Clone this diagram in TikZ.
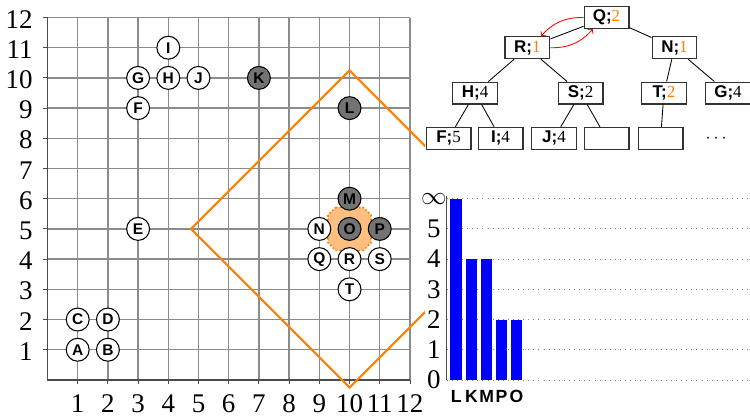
\documentclass[tikz,border=0pt]{standalone}
\usepackage{fontspec}
\setmainfont{Liberation Serif}
\setsansfont{Liberation Sans}
\usepackage{xcolor}
\usetikzlibrary{positioning}

\newcommand{\klab}[1]{\textsf{\bfseries #1;}}

\begin{document}
\begin{tikzpicture}[x=0.5cm,y=0.5cm,
  pt/.style={circle,draw,line width=0.5pt,fill=white,minimum size=10.8pt,inner sep=0pt,font=\fontsize{7.3}{8}\sffamily\bfseries},
  dark/.style={pt,fill=black!55},
  tn/.style={draw=black!80,line width=0.6pt,minimum width=0.74cm,minimum height=0.36cm,inner sep=0pt,font=\fontsize{8}{9}\selectfont},
  num/.style={font=\fontsize{12.7}{14}\selectfont,inner sep=0pt},
  bl/.style={font=\fontsize{8.3}{9}\sffamily\bfseries,inner sep=0pt}]

\useasboundingbox (-1.573,-1.192) rectangle (23.26,12.58);

% grid and axes
\draw[black!45,line width=0.6pt] (0,0) grid[step=1] (12,12);
\draw[black!70,line width=0.6pt] (0,12) -- (0,0) -- (12,0);
\foreach \i in {1,...,12} {
  \draw[black!70] (-0.15,\i) -- (0,\i);
  \draw[black!70] (\i,0) -- (\i,-0.12);
  \node[num,anchor=east] (yl\i) at (-0.48,\i-0.06) {\i};
  \node[num] (xl\i) at (\i,-0.79) {\i};
}

% region around O
\filldraw[orange,densely dotted,fill=orange!50,line width=0.8pt,shift={(10,5)}]
  (-0.46,0.71) -- (0.46,0.71) -- (0.71,0.46) -- (0.71,-0.46) -- (0.46,-0.71)
  -- (-0.46,-0.71) -- (-0.71,-0.46) -- (-0.71,0.46) -- cycle;

% diamond
\begin{scope}
\clip (-1.6,-1.2) rectangle (12.5,12.6);
\draw[orange,line width=1pt] (10,10.25) -- (15.25,5) -- (10,-0.25) -- (4.75,5) -- cycle;
\end{scope}

% points
\foreach \n/\x/\y in {A/1/1,B/2/1,C/1/2,D/2/2,E/3/5,F/3/9,G/3/10,H/4/10,I/4/11,J/5/10,N/9/5,Q/9/4,R/10/4,S/11/4,T/10/3}
  \node[pt] (p\n) at (\x,\y) {\n};
\foreach \n/\x/\y in {K/7/10,L/10/9,M/10/6,O/10/5,P/11/5}
  \node[dark] (p\n) at (\x,\y) {\n};

% tree
\node[tn] (tQ) at (18.51,12) {\klab{Q}\textcolor{orange}{2}};
\node[tn] (tR) at (15.89,11) {\klab{R}\textcolor{orange}{1}};
\node[tn] (tN) at (20.76,11) {\klab{N}\textcolor{orange}{1}};
\node[tn] (tH) at (14.16,9.5) {\klab{H}4};
\node[tn] (tS) at (17.65,9.5) {\klab{S}2};
\node[tn] (tT) at (20.41,9.5) {\klab{T}\textcolor{orange}{2}};
\node[tn] (tG) at (22.53,9.5) {\klab{G}4};
\node[tn] (tF) at (13.28,8) {\klab{F}5};
\node[tn] (tI) at (15.0,8) {\klab{I}4};
\node[tn] (tJ) at (16.77,8) {\klab{J}4};
\node[tn] (tE1) at (18.51,8) {};
\node[tn] (tE2) at (20.30,8) {};
\node[font=\fontsize{8}{9}\selectfont] (tdots) at (22.14,8) {$\cdots$};

\draw (tQ) -- (tR);
\draw (tQ) -- (tN);
\draw (tR) -- (tH);
\draw (tR) -- (tS);
\draw (tN) -- (tT);
\draw (tN) -- (tG);
\draw (tH) -- (tF);
\draw (tH) -- (tI);
\draw (tS) -- (tJ);
\draw (tS) -- (tE1);
\draw (tT) -- (tE2);

\draw[red,->] (tQ.west) to[bend right=25] (tR.40);
\draw[red,->] (tR.east) to[bend right=25] (tQ.220);

% bar chart
\foreach \v in {0,...,6}
  \draw[black!50,dotted] (13.22,\v) -- (23.26,\v);
\foreach \x/\h/\n in {13.53/6/L,14.04/4/K,14.54/4/M,15.03/2/P,15.53/2/O} {
  \fill[blue] (\x-0.19,0) rectangle (\x+0.19,\h);
  \node[bl] (b\n) at (\x,-0.56) {\n};
}
\draw[black!70,line width=0.6pt] (13.22,0) -- (13.22,6.1);
\foreach \v in {0,...,5}
  \node[num] (bv\v) at (12.79,\v) {\v};
\node[num] (binf) at (12.79,6) {$\infty$};
\end{tikzpicture}
\end{document}
